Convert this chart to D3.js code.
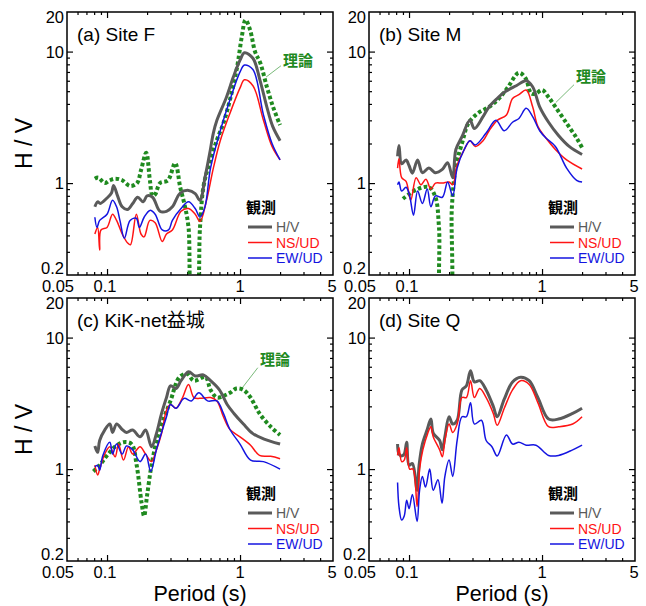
<!DOCTYPE html>
<html>
<head>
<meta charset="utf-8">
<script src="https://cdn.jsdelivr.net/npm/d3@7"></script>
<style>
  body { margin: 0; background: #fff; }
  text { font-family: "Liberation Sans", Arial, "Noto Sans CJK JP", sans-serif; }
</style>
</head>
<body>
<script>
// values: [period (s), H/V]
let F_theory = [[0.081,1.08],[0.086,1.1],[0.096,1.0],[0.105,1.05],[0.115,1.08],[0.13,1.05],[0.149,0.95],[0.168,1.0],[0.18,1.25],[0.197,1.7],[0.21,1.05],[0.22,0.8],[0.23,0.82],[0.25,1.0],[0.287,1.05],[0.325,1.42],[0.355,0.93],[0.386,0.66],[0.41,0.46],[0.44,0.12],[0.465,0.12],[0.5,0.46],[0.53,0.93],[0.58,1.35],[0.67,2.13],[0.75,2.86],[0.84,4.3],[0.95,7.6],[1.03,12.9],[1.1,17.4],[1.19,14.6],[1.3,9.9],[1.42,8.2],[1.59,5.4],[1.77,3.8],[2.0,2.76]];
let F_hv = [[0.081,0.66],[0.085,0.72],[0.089,0.7],[0.1,0.77],[0.108,0.84],[0.112,0.96],[0.12,0.8],[0.13,0.66],[0.143,0.63],[0.156,0.7],[0.17,0.78],[0.187,0.72],[0.2,0.8],[0.22,0.78],[0.25,0.61],[0.28,0.61],[0.31,0.66],[0.355,0.84],[0.41,0.88],[0.46,0.83],[0.5,0.74],[0.545,1.1],[0.59,1.66],[0.63,2.4],[0.67,3.0],[0.79,4.5],[0.89,6.4],[1.0,8.6],[1.08,9.8],[1.25,8.9],[1.41,6.1],[1.59,3.8],[1.76,2.7],[2.0,2.1]];
let F_ns = [[0.081,0.41],[0.085,0.46],[0.088,0.31],[0.09,0.44],[0.1,0.46],[0.11,0.58],[0.118,0.52],[0.13,0.41],[0.143,0.35],[0.15,0.34],[0.166,0.58],[0.18,0.41],[0.19,0.39],[0.21,0.52],[0.23,0.5],[0.26,0.36],[0.28,0.41],[0.31,0.44],[0.36,0.61],[0.41,0.64],[0.46,0.58],[0.5,0.51],[0.56,0.74],[0.63,1.3],[0.71,2.1],[0.84,3.4],[1.0,5.3],[1.08,6.1],[1.25,5.5],[1.5,3.0],[1.74,1.9],[2.0,1.5]];
let F_ew = [[0.081,0.55],[0.084,0.46],[0.088,0.52],[0.1,0.58],[0.11,0.74],[0.118,0.66],[0.125,0.52],[0.135,0.38],[0.149,0.52],[0.166,0.54],[0.175,0.46],[0.19,0.55],[0.21,0.62],[0.23,0.58],[0.26,0.44],[0.29,0.44],[0.31,0.52],[0.36,0.64],[0.41,0.72],[0.46,0.64],[0.5,0.55],[0.545,0.66],[0.6,1.3],[0.71,2.5],[0.84,4.3],[1.0,7.0],[1.08,7.9],[1.25,7.3],[1.5,3.3],[1.74,2.0],[2.0,1.5]];

let M_theory = [[0.09,0.76],[0.113,0.89],[0.141,0.93],[0.158,0.78],[0.168,0.46],[0.178,0.12],[0.199,0.12],[0.21,0.66],[0.225,1.35],[0.25,2.0],[0.28,2.86],[0.33,3.4],[0.4,3.8],[0.475,4.4],[0.55,5.3],[0.67,6.9],[0.75,6.3],[0.83,4.8],[0.9,4.8],[1.0,5.1],[1.12,4.5],[1.26,3.8],[1.53,2.85],[1.82,2.2],[2.0,1.86]];
let M_hv = [[0.082,1.6],[0.084,1.93],[0.088,1.4],[0.095,1.5],[0.1,1.36],[0.106,1.19],[0.116,1.5],[0.126,1.2],[0.141,1.3],[0.158,1.2],[0.178,1.27],[0.195,1.43],[0.213,1.1],[0.225,1.8],[0.25,2.25],[0.287,3.0],[0.31,2.6],[0.36,3.2],[0.4,3.8],[0.46,4.4],[0.52,4.9],[0.64,5.5],[0.76,6.0],[0.85,5.4],[0.96,3.8],[1.12,2.9],[1.33,2.3],[1.6,1.9],[2.0,1.65]];
let M_ns = [[0.082,1.3],[0.084,1.53],[0.088,1.1],[0.095,1.03],[0.103,0.74],[0.113,1.1],[0.123,0.97],[0.134,1.07],[0.146,0.9],[0.158,1.0],[0.178,1.0],[0.2,1.02],[0.213,0.97],[0.23,1.37],[0.26,1.8],[0.287,2.1],[0.315,1.9],[0.36,2.1],[0.4,2.5],[0.46,3.0],[0.54,3.3],[0.6,4.4],[0.67,4.7],[0.76,5.1],[0.85,3.8],[0.93,2.7],[1.07,2.2],[1.26,1.8],[1.53,1.5],[2.0,1.28]];
let M_ew = [[0.082,0.97],[0.084,1.02],[0.088,0.87],[0.095,0.93],[0.101,0.8],[0.108,0.57],[0.116,0.87],[0.126,0.7],[0.137,0.9],[0.146,0.66],[0.158,0.8],[0.178,0.78],[0.195,1.02],[0.213,0.8],[0.23,1.3],[0.26,1.8],[0.287,2.1],[0.315,1.95],[0.38,2.4],[0.45,3.0],[0.52,2.5],[0.6,2.9],[0.67,3.1],[0.76,3.7],[0.85,3.2],[0.96,2.5],[1.07,2.2],[1.26,1.9],[1.53,1.3],[1.82,1.05],[2.0,1.02]];

let C_theory = [[0.079,0.96],[0.088,1.07],[0.1,1.27],[0.115,1.48],[0.133,1.6],[0.153,1.55],[0.167,1.07],[0.182,0.55],[0.19,0.44],[0.2,0.63],[0.216,1.07],[0.24,1.76],[0.27,2.5],[0.3,3.3],[0.35,5.0],[0.4,5.3],[0.45,4.7],[0.55,5.0],[0.6,4.0],[0.67,3.5],[0.75,3.6],[0.84,3.8],[0.94,4.1],[1.06,4.0],[1.2,3.5],[1.4,2.65],[1.7,2.1],[2.0,1.82]];
let C_hv = [[0.081,1.5],[0.085,1.34],[0.088,1.65],[0.096,1.98],[0.105,2.2],[0.11,1.9],[0.118,2.2],[0.13,2.0],[0.14,1.9],[0.156,1.98],[0.177,1.76],[0.195,1.98],[0.216,1.48],[0.235,1.86],[0.257,2.65],[0.28,3.5],[0.3,4.3],[0.33,4.1],[0.36,4.7],[0.41,5.5],[0.46,5.1],[0.53,5.2],[0.6,4.7],[0.7,4.0],[0.8,3.1],[0.9,2.65],[1.06,2.2],[1.25,1.86],[1.5,1.7],[2.0,1.55]];
let C_ns = [[0.081,1.07],[0.085,0.9],[0.088,1.0],[0.096,1.3],[0.105,1.48],[0.115,1.24],[0.122,1.55],[0.133,1.17],[0.145,1.48],[0.156,1.3],[0.177,1.48],[0.195,1.3],[0.216,1.14],[0.235,1.4],[0.257,1.86],[0.28,2.8],[0.3,3.1],[0.33,2.9],[0.37,3.5],[0.41,4.4],[0.45,3.5],[0.5,3.45],[0.6,3.5],[0.67,3.3],[0.75,2.5],[0.84,2.0],[1.0,1.76],[1.2,1.52],[1.4,1.27],[1.7,1.25],[2.0,1.2]];
let C_ew = [[0.081,1.04],[0.085,1.07],[0.088,0.98],[0.093,1.27],[0.105,1.6],[0.11,1.3],[0.118,1.55],[0.13,1.3],[0.14,1.5],[0.156,1.4],[0.177,1.14],[0.195,1.3],[0.213,0.96],[0.235,1.4],[0.257,1.9],[0.28,2.5],[0.3,3.1],[0.33,2.9],[0.38,3.45],[0.43,3.3],[0.49,3.8],[0.57,3.3],[0.67,3.3],[0.75,2.65],[0.84,2.0],[1.0,1.55],[1.2,1.17],[1.5,1.14],[2.0,1.0]];

let Q_hv = [[0.082,1.55],[0.084,1.3],[0.088,1.26],[0.092,1.3],[0.096,1.6],[0.1,1.07],[0.106,1.1],[0.115,0.69],[0.119,1.07],[0.126,1.55],[0.137,2.0],[0.146,2.4],[0.152,1.88],[0.17,1.65],[0.178,1.4],[0.186,1.76],[0.2,2.5],[0.213,2.2],[0.23,2.35],[0.25,4.0],[0.27,4.3],[0.29,5.6],[0.31,4.6],[0.34,4.7],[0.38,4.0],[0.43,3.0],[0.46,2.5],[0.52,3.4],[0.6,4.6],[0.69,5.0],[0.8,4.7],[0.93,3.5],[1.12,2.4],[1.33,2.4],[1.7,2.65],[2.0,2.9]];
let Q_ns = [[0.082,1.27],[0.084,1.45],[0.088,1.14],[0.092,1.17],[0.096,1.45],[0.101,1.0],[0.107,1.0],[0.115,0.52],[0.12,1.0],[0.127,1.4],[0.138,1.86],[0.146,2.1],[0.152,1.76],[0.17,1.4],[0.178,1.24],[0.186,1.65],[0.2,2.2],[0.213,1.9],[0.23,2.2],[0.25,3.5],[0.27,3.5],[0.29,4.7],[0.31,3.5],[0.34,4.1],[0.38,3.5],[0.43,2.65],[0.46,2.15],[0.52,2.9],[0.6,4.0],[0.69,4.7],[0.8,4.4],[0.93,3.2],[1.12,2.1],[1.33,2.1],[1.7,2.2],[2.0,2.5]];
let Q_ew = [[0.082,0.79],[0.084,0.52],[0.088,0.41],[0.092,0.44],[0.096,0.58],[0.1,0.5],[0.106,0.64],[0.115,0.4],[0.12,0.69],[0.126,0.88],[0.133,0.73],[0.143,1.0],[0.152,0.69],[0.165,0.83],[0.177,0.55],[0.186,0.88],[0.2,1.17],[0.213,0.88],[0.23,1.65],[0.25,2.5],[0.27,2.5],[0.29,3.2],[0.31,2.2],[0.35,2.35],[0.38,1.65],[0.42,1.48],[0.46,1.26],[0.54,1.82],[0.6,1.55],[0.67,1.6],[0.76,1.52],[0.9,1.52],[1.12,1.27],[1.33,1.27],[1.7,1.4],[2.0,1.52]];

let xTickLabels = [0.05, 0.1, 1, 5];
let yTickLabels = [0.2, 1, 10, 20];
let xMajor = [0.1, 1];
let xMinor = [0.06, 0.07, 0.08, 0.09, 0.2, 0.3, 0.4, 0.5, 0.6, 0.7, 0.8, 0.9, 2, 3, 4];
let yMajor = [1, 10];
let yMinor = [0.3, 0.4, 0.5, 0.6, 0.7, 0.8, 0.9, 2, 3, 4, 5, 6, 7, 8, 9];
let legendNames = ['H/V', 'NS/UD', 'EW/UD'];

let width = 266;
let height = 263;

let colors = { hv: '#5a5a5a', ns: '#ff1414', ew: '#1414e0', theory: '#1f8a1f' };

let panels = [
  { id: 'a', left: 67, top: 12, title: '(a) Site F', hv: F_hv, ns: F_ns, ew: F_ew, theory: F_theory,
    label: { at: [2.1, 7.8], from: [2.03, 7.8], to: [1.57, 6.4] }, bottom: false },
  { id: 'b', left: 369, top: 12, title: '(b) Site M', hv: M_hv, ns: M_ns, ew: M_ew, theory: M_theory,
    label: { at: [1.8, 5.9], from: [1.74, 5.6], to: [1.27, 4.1] }, bottom: false },
  { id: 'c', left: 67, top: 298, title: '(c) KiK-net益城', hv: C_hv, ns: C_ns, ew: C_ew, theory: C_theory,
    label: { at: [1.41, 6.2], from: [1.36, 5.9], to: [1.03, 4.1] }, bottom: true },
  { id: 'd', left: 369, top: 298, title: '(d) Site Q', hv: Q_hv, ns: Q_ns, ew: Q_ew, theory: null,
    label: null, bottom: true }
];

let svg = d3.select('body').append('svg').attr('width', 646).attr('height', 606);

let x = d3.scaleLog().domain([0.05, 5]).range([0, width]);
let y = d3.scaleLog().domain([0.2, 20]).range([height, 0]);

let line = d3.line()
  .x(function(d) { return x(d[0]); })
  .y(function(d) { return y(d[1]); })
  .curve(d3.curveCatmullRom.alpha(0.5));

panels.forEach(function(p) {
  let g = svg.append('g').attr('transform', 'translate(' + p.left + ',' + p.top + ')');

  g.append('clipPath').attr('id', 'clip-' + p.id)
    .append('rect').attr('width', width).attr('height', height);

  // inward ticks on all four sides
  let tickSets = [
    [d3.axisBottom(x), 'translate(0,' + height + ')'],
    [d3.axisTop(x), 'translate(0,0)'],
    [d3.axisLeft(y), 'translate(0,0)'],
    [d3.axisRight(y), 'translate(' + width + ',0)']
  ];
  tickSets.forEach(function(t, i) {
    let isX = i < 2;
    [[isX ? xMajor : yMajor, 6], [isX ? xMinor : yMinor, 3]].forEach(function(s) {
      let ax = g.append('g').attr('transform', t[1])
        .call(t[0].tickValues(s[0]).tickSize(-s[1]).tickFormat(''));
      ax.select('.domain').remove();
      ax.selectAll('line').attr('stroke', '#000').attr('stroke-width', 1.2);
    });
  });

  let plot = g.append('g').attr('clip-path', 'url(#clip-' + p.id + ')');

  if (p.theory) {
    plot.append('path').datum(p.theory)
      .attr('d', line).attr('fill', 'none')
      .attr('stroke', colors.theory).attr('stroke-width', 4)
      .attr('stroke-dasharray', '3.5,2.5');
  }
  plot.append('path').datum(p.hv).attr('d', line).attr('fill', 'none')
    .attr('stroke', colors.hv).attr('stroke-width', 3);
  plot.append('path').datum(p.ns).attr('d', line).attr('fill', 'none')
    .attr('stroke', colors.ns).attr('stroke-width', 1.5);
  plot.append('path').datum(p.ew).attr('d', line).attr('fill', 'none')
    .attr('stroke', colors.ew).attr('stroke-width', 1.5);

  g.append('rect').attr('width', width).attr('height', height)
    .attr('fill', 'none').attr('stroke', '#000').attr('stroke-width', 1.5);

  // tick labels
  g.selectAll('.ylab').data(yTickLabels).enter().append('text')
    .attr('x', -3)
    .attr('y', function(d) {
      if (d == 20) return y(d) + 5;
      if (d == 0.2) return y(d) - 7;
      return y(d);
    })
    .attr('dy', '0.36em')
    .attr('text-anchor', 'end')
    .style('font-size', '16.5px')
    .text(function(d) { return d; });

  g.selectAll('.xlab').data(xTickLabels).enter().append('text')
    .attr('x', function(d) {
      if (d == 0.05) return x(d) - 9;
      if (d == 5) return x(d) - 1;
      if (d == 0.1) return x(d) - 2;
      return x(d);
    })
    .attr('y', height + 17)
    .attr('text-anchor', 'middle')
    .style('font-size', '16.5px')
    .text(function(d) { return d; });

  g.append('text').attr('x', 10).attr('y', 29)
    .style('font-size', '19px').text(p.title);

  // legend
  let lg = g.append('g').attr('transform', 'translate(' + (width - 87) + ',' + (height - 62) + ')');
  lg.append('text').attr('x', 0).attr('y', 0)
    .style('font-size', '15px').style('font-weight', 'bold').text('観測');
  let lc = [colors.hv, colors.ns, colors.ew];
  let lw = [3, 1.5, 1.5];
  legendNames.forEach(function(name, i) {
    let ly = 14 + i * 15.5;
    lg.append('line').attr('x1', 2).attr('x2', 26).attr('y1', ly).attr('y2', ly)
      .attr('stroke', lc[i]).attr('stroke-width', lw[i]);
    lg.append('text').attr('x', 30).attr('y', ly + 5)
      .style('font-size', '14px').attr('fill', lc[i]).text(name);
  });

  if (p.label) {
    g.append('line')
      .attr('x1', x(p.label.from[0])).attr('y1', y(p.label.from[1]))
      .attr('x2', x(p.label.to[0])).attr('y2', y(p.label.to[1]))
      .attr('stroke', colors.theory).attr('stroke-width', 0.6);
    g.append('text').attr('x', x(p.label.at[0])).attr('y', y(p.label.at[1]))
      .style('font-size', '15px').style('font-weight', 'bold')
      .attr('fill', colors.theory).text('理論');
  }

  if (p.left < 100) {
    g.append('text')
      .attr('transform', 'translate(-35,' + (height / 2) + ') rotate(-90)')
      .attr('text-anchor', 'middle')
      .style('font-size', '23px').text('H / V');
  }
  if (p.bottom) {
    g.append('text').attr('x', width / 2).attr('y', height + 40)
      .attr('text-anchor', 'middle')
      .style('font-size', '21.5px').text('Period (s)');
  }
});
</script>
</body>
</html>
